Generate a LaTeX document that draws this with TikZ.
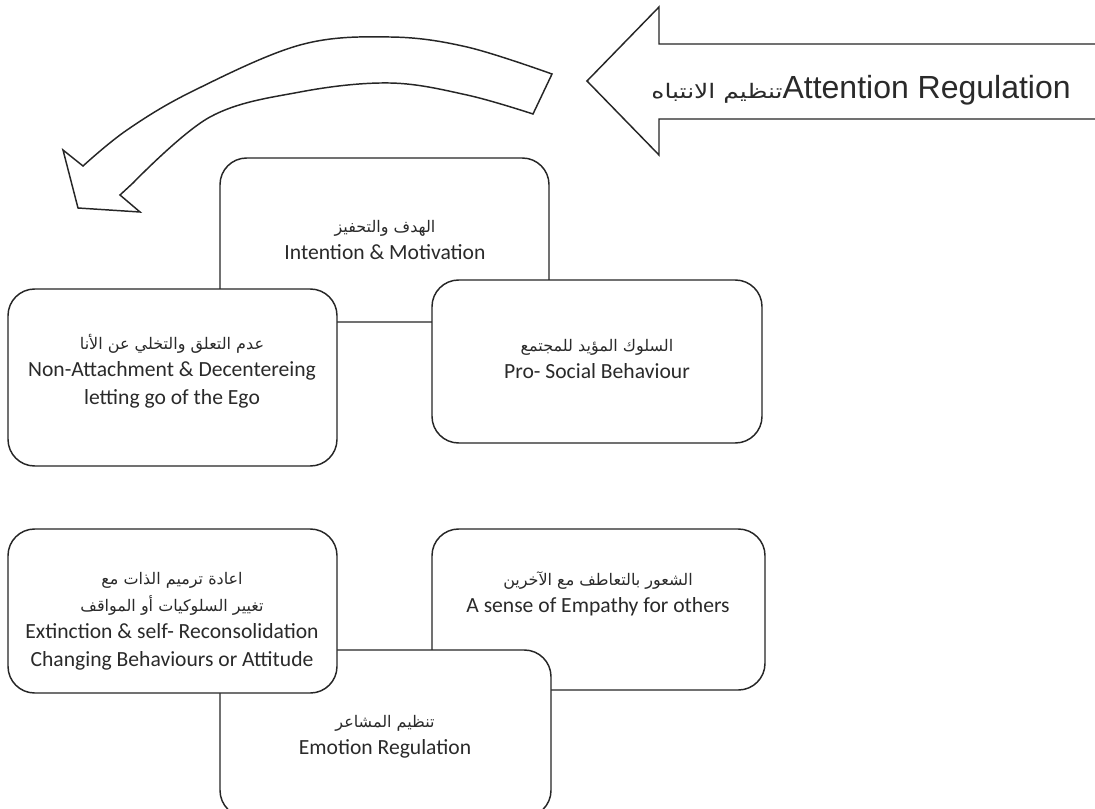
\documentclass[tikz,border=0pt]{standalone}
\usepackage{fontspec}
\setmainfont{Carlito}
\newfontfamily\arabicfont[Script=Arabic]{DejaVu Sans}
\newfontfamily\arabicwide[Script=Arabic, FakeStretch=1.25]{DejaVu Sans}
\newfontfamily\arialfont{Liberation Sans}
\TeXXeTstate=1
\definecolor{linecol}{HTML}{262626}
\definecolor{textcol}{HTML}{2A2A2A}
\newcommand\artext[1]{{\arabicfont\fontsize{12}{20.5}\selectfont\beginR #1\endR}}
\begin{document}
\begin{tikzpicture}[x=0.75pt,y=-0.75pt,
  box/.style={draw=linecol, line width=1.1pt, rounded corners=20pt, fill=white, inner sep=0pt},
  txt/.style={align=center, text=textcol, font=\fontsize{16.2}{20.5}\selectfont, inner sep=0pt},
  shape outline/.style={draw=linecol, line width=1.1pt, line join=miter, fill=white}]
\clip (0,0) rectangle (1095,809);
\fill[white] (0,0) rectangle (1095,809);

% big straight arrow (Attention Regulation)
\draw[shape outline] (1100,44) -- (659,44) -- (659,7) -- (587,81) -- (659,155) -- (659,119) -- (1100,119);
\node[anchor=east, inner sep=0pt, text=textcol] (attn) at (1071,90)
  {{\arabicwide\fontsize{15}{18}\selectfont\beginR تنظيم الانتباه\endR}{\arialfont\fontsize{24}{28}\selectfont Attention Regulation}};

% curved arrow
\draw[shape outline]
  plot[smooth, tension=0.6] coordinates {(552,74) (467,47) (390,37) (300,45) (193,91) (127,130) (83,166)}
  -- (63,150) -- (78,208) -- (140,212) -- (120,195) -- (133,183)
  -- plot[smooth, tension=0.6] coordinates {(133,183) (210,117) (300,92) (390,83) (467,95) (533,114)}
  -- cycle;

% top group
\node[box, minimum width=246.75pt, minimum height=123pt] (intent) at (384.5,240) {};
\node[box, minimum width=246.75pt, minimum height=132.75pt] (nonatt) at (172.5,377.5) {};
\node[box, minimum width=247.5pt, minimum height=122.25pt] (prosoc) at (597,361.5) {};

\node[txt] (intent-t) at (385,240) {\artext{الهدف والتحفيز}\\Intention \& Motivation};
\node[txt] (nonatt-t) at (172,371) {\artext{عدم التعلق والتخلي عن الأنا}\\Non-Attachment \& Decentereing\\letting go of the Ego};
\node[txt] (prosoc-t) at (597,359) {\artext{السلوك المؤيد للمجتمع}\\Pro- Social Behaviour};

% bottom group
\node[box, minimum width=249.75pt, minimum height=120.75pt] (empathy) at (598.5,609.5) {};
\node[box, minimum width=248.25pt, minimum height=125.25pt] (emotion) at (385.5,733.5) {};
\node[box, minimum width=246.75pt, minimum height=123pt] (extinct) at (172.5,611) {};

\node[txt] (extinct-t) at (172,621) {\artext{اعادة ترميم الذات مع}\\\artext{تغيير السلوكيات أو المواقف}\\Extinction \& self- Reconsolidation\\Changing Behaviours or Attitude};
\node[txt] (empathy-t) at (598,594) {\artext{الشعور بالتعاطف مع الآخرين}\\A sense of Empathy for others};
\node[txt] (emotion-t) at (385,737) {\artext{تنظيم المشاعر}\\Emotion Regulation};
\end{tikzpicture}
\end{document}
